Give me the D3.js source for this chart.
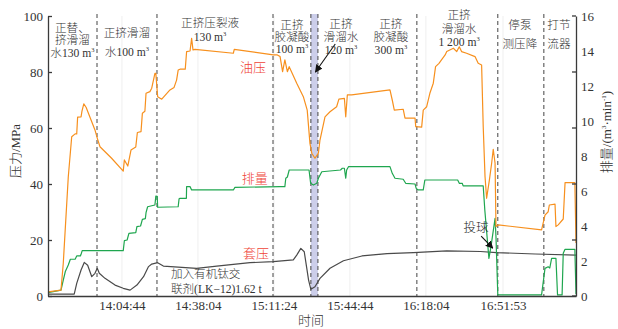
<!DOCTYPE html>
<head>
    <title>压力与排量施工曲线</title>
    <meta charset="utf-8" />
</head>

<style>
    body {
        margin: 0;
        background-color: #ffffff;
    }

    svg text {
        font-family: "Liberation Serif", "Noto Sans CJK SC", serif;
        font-weight: 300;
        fill: #333;
    }

    .axis path,
    .axis line {
        stroke: #3a3a3a;
        stroke-width: 1.3px;
    }

    .axis text {
        font-size: 13px;
        fill: #333;
    }

    .curve {
        fill: none;
        stroke-width: 1.2px;
        stroke-linejoin: round;
    }
</style>

<body>
    <svg id="chart" width="618" height="329"></svg>
    <script src="https://d3js.org/d3.v7.min.js"></script>

    <script>
        // time is in minutes after 13:30:00
        var xTickLabels = ["14:04:44", "14:38:04", "15:11:24", "15:44:44", "16:18:04", "16:51:53"];
        var leftTicks = [0, 20, 40, 60, 80, 100];
        var rightTicks = [0, 2, 4, 6, 8, 10, 12, 14, 16];

        // stage boundaries (dashed lines) and the ball-drop band
        var stageEdges = [23.8, 50.1, 101.0, 117.6, 120.7, 164.1, 199.6, 219.8];
        var ballBand = [117.6, 120.7];

        // 油压, MPa
        var oilPressure = [
            [2.3, 1.5], [8.0, 2.1], [9.0, 11.7], [11.2, 42.6], [12.7, 56.9], [14.2, 57.9], [14.9, 57.9],
            [15.3, 63.9], [16.8, 64.0], [17.2, 66.0], [18.0, 68.6], [19.0, 67.4], [22.9, 59.3], [23.9, 56.4],
            [25.1, 53.3], [30.2, 49.2], [35.3, 44.6], [35.8, 48.6], [37.3, 46.4], [38.7, 52.1], [40.8, 53.2],
            [41.5, 58.4], [43.1, 58.7], [43.7, 65.3], [44.8, 66.0], [45.3, 72.4], [47.0, 73.0], [47.8, 74.2],
            [49.2, 79.5], [49.6, 79.5], [50.4, 71.2], [52.2, 70.3], [55.8, 73.6], [57.6, 74.5], [58.7, 77.1],
            [59.4, 80.7], [60.2, 81.0], [62.5, 81.0], [63.1, 87.3], [64.6, 87.5], [65.3, 92.0], [65.9, 87.9],
            [66.8, 88.1], [83.6, 86.7], [84.0, 88.1], [101.1, 86.1], [102.9, 86.1], [104.1, 85.5], [105.2, 80.1],
            [106.2, 84.3], [107.3, 80.1], [108.1, 81.9], [111.4, 76.0], [114.3, 71.2], [116.0, 66.4], [117.2, 54.5],
            [118.0, 51.0], [119.4, 49.2], [120.9, 51.0], [121.6, 55.7], [123.8, 64.0], [126.0, 65.8], [128.9, 67.6],
            [129.9, 70.3], [132.3, 70.6], [132.9, 64.0], [133.6, 71.8], [135.5, 71.8], [152.3, 73.6], [153.3, 70.0],
            [154.2, 66.4], [158.1, 66.7], [158.9, 63.5], [163.3, 63.5], [163.6, 60.5], [166.2, 60.3], [166.9, 66.4],
            [168.4, 67.6], [169.8, 72.4], [171.3, 76.0], [172.3, 81.9], [173.8, 83.1], [174.9, 84.3], [176.5, 86.1],
            [177.2, 87.3], [180.1, 88.5], [181.6, 87.3], [182.7, 89.0], [183.7, 87.3], [185.9, 86.7], [189.6, 85.5],
            [191.0, 83.1], [192.5, 82.5], [193.2, 60.5], [194.0, 42.6], [194.7, 34.9], [195.9, 41.4], [196.9, 47.4],
            [197.6, 52.4], [198.4, 47.4], [198.8, 24.8], [199.8, 25.4], [218.8, 23.6], [220.3, 28.9], [221.7, 30.1],
            [222.2, 32.5], [224.7, 32.8], [225.1, 24.8], [226.1, 25.4], [228.3, 27.5], [229.1, 40.5], [233.4, 40.5],
            [233.9, 18.9]
        ];

        // 排量, m3/min
        var flowRate = [
            [2.3, 0.19], [8.0, 0.34], [9.0, 0.91], [9.9, 1.4], [11.2, 1.77], [12.1, 2.10], [14.2, 2.10], [14.9, 2.29],
            [16.5, 2.29], [16.8, 2.38], [17.3, 2.59], [35.3, 2.59], [35.8, 3.16], [37.0, 3.2], [37.8, 3.58], [40.8, 3.62],
            [41.3, 3.96], [42.9, 4.0], [43.7, 4.38], [45.0, 4.42], [45.3, 4.76], [46.0, 5.10], [49.2, 5.20], [49.6, 5.71],
            [50.2, 5.70], [50.4, 5.07], [59.4, 5.10], [59.8, 5.56], [60.2, 5.58], [63.0, 5.58], [63.1, 6.25], [64.6, 6.25],
            [65.3, 6.06], [83.6, 6.06], [84.3, 6.21], [104.1, 6.25], [106.2, 6.25], [106.6, 6.73], [107.3, 6.80],
            [108.1, 7.20], [116.8, 7.20], [117.5, 6.44], [118.7, 6.34], [120.2, 6.44], [120.9, 6.73], [122.4, 7.10],
            [130.6, 7.20], [131.4, 7.30], [132.3, 7.30], [132.9, 6.73], [133.3, 7.20], [134.1, 7.39], [152.3, 7.39],
            [153.3, 7.01], [154.5, 6.73], [158.1, 6.67], [159.2, 6.44], [163.3, 6.40], [163.8, 6.15], [164.7, 6.06],
            [166.9, 6.06], [167.6, 6.63], [182.0, 6.63], [182.7, 6.44], [184.0, 6.44], [184.4, 6.29], [193.2, 6.29],
            [193.9, 4.91], [195.7, 2.15], [196.6, 2.82], [198.4, 4.44], [198.8, 3.39], [199.6, 0.06], [218.8, 0.06],
            [220.3, 1.58], [221.7, 1.67], [222.4, 1.60], [223.2, 2.15], [225.1, 2.15], [225.8, 0.06], [227.8, 0.06],
            [228.3, 2.44], [229.1, 2.67], [233.4, 2.67], [233.9, 0.1]
        ];

        // 套压, MPa
        var casingPressure = [
            [2.3, 0.7], [13.8, 0.7], [14.9, 4.5], [16.8, 9.3], [18.2, 12.0], [19.7, 11.0], [21.5, 6.9], [22.9, 8.1],
            [23.9, 9.9], [24.8, 8.1], [27.3, 6.3], [31.7, 3.9], [35.3, 2.75], [38.3, 2.1], [41.3, 3.9], [44.2, 6.9],
            [46.4, 10.5], [47.8, 11.4], [50.4, 11.9], [52.9, 10.7], [67.5, 9.9], [76.3, 10.7], [90.9, 11.9],
            [101.1, 12.3], [109.9, 12.9], [111.4, 14.6], [113.2, 17.0], [114.7, 15.8], [115.7, 10.5], [116.6, 5.7],
            [117.6, 2.4], [119.4, 3.3], [121.6, 6.3], [126.0, 9.9], [131.9, 12.6], [140.0, 14.3], [151.0, 15.1],
            [162.6, 15.5], [177.2, 16.1], [192.0, 15.9], [199.0, 15.5], [216.0, 15.0], [233.9, 14.6]
        ];

        function toMin(s) {
            var p = s.split(":").map(Number);
            return p[0] * 60 + p[1] + p[2] / 60 - 13 * 60 - 30;
        }

        var margin = {
            top: 16,
            right: 42,
            bottom: 33,
            left: 48
        };

        var svg = d3.select("#chart"),
            width = +svg.attr("width") - margin.left - margin.right,
            height = +svg.attr("height") - margin.top - margin.bottom;

        var g = svg.append("g")
            .attr("transform", "translate(" + margin.left + "," + margin.top + ")");

        var x = d3.scaleLinear().domain([2.3, 233.9]).range([0, width]);
        var yL = d3.scaleLinear().domain([0, 100]).range([height, 0]);
        var yR = d3.scaleLinear().domain([0, 16]).range([height, 0]);

        var xTicks = xTickLabels.map(toMin);

        // faint vertical grid
        g.selectAll(".grid")
            .data(xTicks)
            .enter().append("line")
            .attr("x1", function(d) { return x(d); })
            .attr("x2", function(d) { return x(d); })
            .attr("y1", 0)
            .attr("y2", height)
            .attr("stroke", "#efefef")
            .attr("stroke-width", 1);

        // ball-drop band
        g.append("rect")
            .attr("x", x(ballBand[0]))
            .attr("width", x(ballBand[1]) - x(ballBand[0]))
            .attr("y", -2)
            .attr("height", height + 2)
            .attr("fill", "#ccceea");

        // stage boundaries
        g.selectAll(".stage")
            .data(stageEdges)
            .enter().append("line")
            .attr("x1", function(d) { return x(d); })
            .attr("x2", function(d) { return x(d); })
            .attr("y1", -2)
            .attr("y2", height)
            .attr("stroke", "#444")
            .attr("stroke-width", 1)
            .attr("stroke-dasharray", "4,3");

        var lineL = d3.line()
            .x(function(d) { return x(d[0]); })
            .y(function(d) { return yL(d[1]); });

        var lineR = d3.line()
            .x(function(d) { return x(d[0]); })
            .y(function(d) { return yR(d[1]); });

        g.append("path").datum(casingPressure).attr("class", "curve")
            .attr("stroke", "#4a4a4a").attr("d", lineL);
        g.append("path").datum(flowRate).attr("class", "curve")
            .attr("stroke", "#1fa64f").attr("d", lineR);
        g.append("path").datum(oilPressure).attr("class", "curve")
            .attr("stroke", "#f7901e").attr("d", lineL);

        // axes
        g.append("g")
            .attr("class", "axis")
            .call(d3.axisLeft(yL).tickValues(leftTicks).tickSizeInner(-4).tickSizeOuter(0).tickPadding(5));

        var right = g.append("g")
            .attr("class", "axis")
            .attr("transform", "translate(" + width + ",0)")
            .call(d3.axisRight(yR).tickValues(rightTicks).tickSize(0).tickPadding(5));

        right.selectAll(".inner")
            .data(leftTicks)
            .enter().append("line")
            .attr("x1", 0)
            .attr("x2", -4)
            .attr("y1", function(d) { return yL(d); })
            .attr("y2", function(d) { return yL(d); });

        g.append("g")
            .attr("class", "axis")
            .attr("transform", "translate(0," + height + ")")
            .call(d3.axisBottom(x).tickValues(xTicks).tickSize(0).tickPadding(5)
                .tickFormat(function(d, i) { return xTickLabels[i]; }));

        // text with ^sup markers
        function rich(sel, str, sup) {
            var parts = str.split(/\^(\S+?)(?=[)·\s]|$)/);
            var back = 0;
            parts.forEach(function(p, i) {
                if (!p) return;
                if (i % 2 === 1) {
                    sel.append("tspan").attr("dy", -5).attr("font-size", sup || 7).text(p);
                    back = 5;
                } else {
                    var t = sel.append("tspan").text(p);
                    if (back) {
                        t.attr("dy", back);
                        back = 0;
                    }
                }
            });
            return sel;
        }

        // stage notes
        var stageNotes = [
            { t: 13.0, y: [28, 40, 52.5], lines: ["正替、", "挤滑溜", "水130 m^3"] },
            { t: 36.9, y: [33, 51.5], lines: ["正挤滑溜", "水100 m^3"] },
            { t: 73.4, y: [23, 36.5], lines: ["正挤压裂液", "130 m^3"] },
            { t: 109.3, y: [25, 36.7, 48.3], lines: ["正挤", "胶凝酸", "100 m^3"] },
            { t: 130.8, y: [23.3, 36.7, 50], lines: ["正挤", "滑溜水", "120 m^3"] },
            { t: 152.7, y: [23.3, 36.7, 50], lines: ["正挤", "胶凝酸", "300 m^3"] },
            { t: 182.6, y: [15, 28.3, 41.7], lines: ["正挤", "滑溜水", "1 200 m^3"] },
            { t: 209.3, y: [25, 43.3], lines: ["停泵", "测压降"] },
            { t: 226.4, y: [25, 43.3], lines: ["打节", "流器"] }
        ];

        stageNotes.forEach(function(n) {
            n.lines.forEach(function(l, i) {
                rich(svg.append("text")
                    .attr("x", margin.left + x(n.t))
                    .attr("y", n.y[i] + 4.3)
                    .attr("text-anchor", "middle")
                    .attr("font-size", "11.6px"), l, 6.5);
            });
        });

        // series names
        var seriesNames = [
            { name: "油压", t: 92.2, v: 81.8 },
            { name: "排量", t: 93.0, v: 42.0 },
            { name: "套压", t: 93.5, v: 15.3 }
        ];

        g.selectAll(".sname")
            .data(seriesNames)
            .enter().append("text")
            .attr("x", function(d) { return x(d.t); })
            .attr("y", function(d) { return yL(d.v) + 5; })
            .attr("text-anchor", "middle")
            .attr("font-size", "13px")
            .style("fill", "#ef4538")
            .text(function(d) { return d.name; });

        // additive note
        var note = ["加入有机钛交", "联剂(LK−12)1.62 t"];
        note.forEach(function(l, i) {
            g.append("text")
                .attr("x", x(56.2))
                .attr("y", yL(8.1) + 4.3 + i * 15)
                .attr("font-size", "11.6px")
                .text(l);
        });

        // arrows
        svg.append("defs").append("marker")
            .attr("id", "head")
            .attr("viewBox", "0 0 10 10")
            .attr("refX", 9)
            .attr("refY", 5)
            .attr("markerWidth", 7)
            .attr("markerHeight", 7)
            .attr("orient", "auto")
            .append("path")
            .attr("d", "M0,0 L10,5 L0,10 Z")
            .attr("fill", "#111");

        g.append("line")
            .attr("x1", x(128.3)).attr("y1", 28)
            .attr("x2", x(119.6)).attr("y2", 56)
            .attr("stroke", "#111").attr("stroke-width", 1.1)
            .attr("marker-end", "url(#head)");

        g.append("text")
            .attr("x", x(190.0))
            .attr("y", yL(24.3) + 4.5)
            .attr("text-anchor", "middle")
            .attr("font-size", "12.5px")
            .style("fill", "#222")
            .text("投球");

        g.append("line")
            .attr("x1", x(192.3)).attr("y1", yL(21.4))
            .attr("x2", x(197.4)).attr("y2", yL(17.1))
            .attr("stroke", "#111").attr("stroke-width", 1.1)
            .attr("marker-end", "url(#head)");

        // axis titles
        rich(svg.append("text")
            .attr("transform", "translate(20,151) rotate(-90)")
            .attr("text-anchor", "middle")
            .attr("font-size", "13px"), "压力/MPa");

        rich(svg.append("text")
            .attr("transform", "translate(611,132) rotate(-90)")
            .attr("text-anchor", "middle")
            .attr("font-size", "13px"), "排量/(m^3·min^-1)");

        svg.append("text")
            .attr("x", 311)
            .attr("y", 325)
            .attr("text-anchor", "middle")
            .attr("font-size", "13px")
            .text("时间");
    </script>
</body>
